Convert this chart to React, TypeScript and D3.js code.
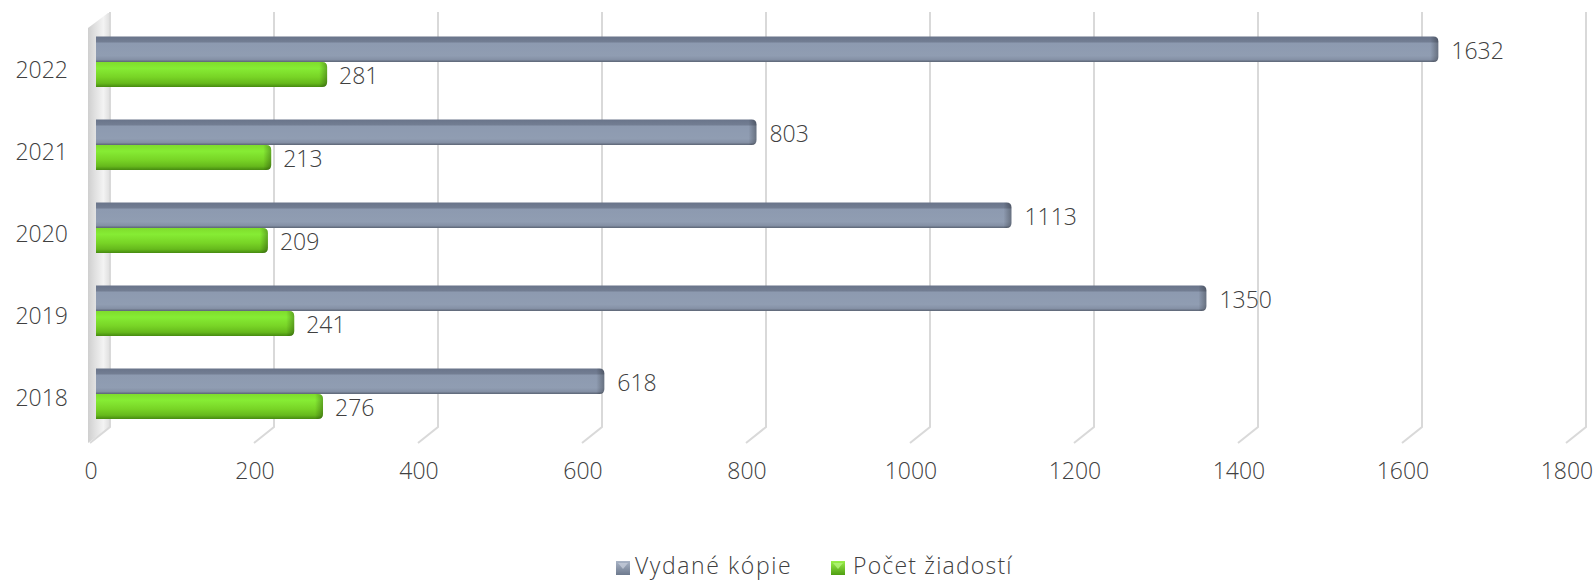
import React from "react";
import * as d3 from "d3";

const years = ["2022", "2021", "2020", "2019", "2018"];
const vydaneKopie = [1632, 803, 1113, 1350, 618];
const pocetZiadosti = [281, 213, 209, 241, 276];
const xTicks = [0, 200, 400, 600, 800, 1000, 1200, 1400, 1600, 1800];
const seriesNames = ["Vydané kópie", "Počet žiadostí"];

const W = 1596;
const H = 583;
const FONT = "'Open Sans', Lato, sans-serif";
const TEXT = "#404040";
const FW = 300;
const FS = 23;

function barPath(x0: number, y0: number, x1: number, y1: number, r: number) {
  const p = d3.path();
  p.moveTo(x0, y0);
  p.lineTo(x1 - r, y0);
  p.quadraticCurveTo(x1, y0, x1, y0 + r);
  p.lineTo(x1, y1 - r);
  p.quadraticCurveTo(x1, y1, x1 - r, y1);
  p.lineTo(x0, y1);
  p.closePath();
  return p.toString();
}

export default function App() {
  const xBack = d3.scaleLinear().domain([0, 1800]).range([110, 1586]);
  const xBar = d3.scaleLinear().domain([0, 1800]).range([96, 96 + 9 * 164.5]);
  const yC = d3.scalePoint<string>().domain(years).range([62, 394]);
  const yLab = d3.scalePoint<string>().domain(years).range([72, 400]);
  const backTop = 12;
  const backBottom = 427;
  const dx = -20;
  const dy = 16;
  const grayH = 25.5;
  const greenH = 25;

  return (
    <svg width={W} height={H} style={{ position: "absolute", left: 0, top: 0, background: "#fff" }} fontFamily={FONT} fontWeight={FW}>
      <defs>
        <linearGradient id="wall" x1="0" y1="0" x2="1" y2="0">
          <stop offset="0" stopColor="#cfcfcf" />
          <stop offset="0.35" stopColor="#e2e2e2" />
          <stop offset="0.7" stopColor="#f3f3f3" />
          <stop offset="1" stopColor="#dedede" />
        </linearGradient>
        <linearGradient id="gGray" x1="0" y1="0" x2="0" y2="1">
          <stop offset="0" stopColor="#69748a" />
          <stop offset="0.2" stopColor="#727d92" />
          <stop offset="0.27" stopColor="#8d9ab0" />
          <stop offset="0.75" stopColor="#909db2" />
          <stop offset="0.9" stopColor="#8591a6" />
          <stop offset="1" stopColor="#5b6474" />
        </linearGradient>
        <linearGradient id="gGreen" x1="0" y1="0" x2="0" y2="1">
          <stop offset="0" stopColor="#7fdc2c" />
          <stop offset="0.25" stopColor="#86ec34" />
          <stop offset="0.6" stopColor="#78d426" />
          <stop offset="0.85" stopColor="#66b91c" />
          <stop offset="1" stopColor="#468a10" />
        </linearGradient>
        <linearGradient id="cap" x1="0" y1="0" x2="1" y2="0">
          <stop offset="0" stopColor="#000" stopOpacity="0" />
          <stop offset="1" stopColor="#000" stopOpacity="0.28" />
        </linearGradient>
        <linearGradient id="lgGray" x1="0" y1="0" x2="0" y2="1">
          <stop offset="0" stopColor="#a9b4c6" />
          <stop offset="1" stopColor="#6e7a8e" />
        </linearGradient>
        <linearGradient id="lgGreen" x1="0" y1="0" x2="0" y2="1">
          <stop offset="0" stopColor="#9af04a" />
          <stop offset="1" stopColor="#4f9e12" />
        </linearGradient>
      </defs>

      {/* left wall */}
      <polygon
        points={`88,28 108,13 110,13 110,${backBottom} 88,${backBottom + dy}`}
        fill="url(#wall)"
      />

      {/* gridlines */}
      {xTicks.map((t) => {
        const x = xBack(t);
        return (
          <path
            key={t}
            d={`M${x},${backTop} V${backBottom} L${x + dx},${backBottom + dy}`}
            fill="none"
            stroke="#d9d9d9"
            strokeWidth={2}
          />
        );
      })}

      {/* bars */}
      {years.map((y, i) => {
        const c = yC(y)!;
        const x0 = xBar(0);
        const xg = xBar(vydaneKopie[i]);
        const xz = xBar(pocetZiadosti[i]);
        return (
          <g key={y}>
            <path d={barPath(x0, c - grayH, xg, c, 5)} fill="url(#gGray)" />
            <path d={barPath(xg - 8, c - grayH, xg, c, 5)} fill="url(#cap)" />
            <path d={barPath(x0, c, xz, c + greenH, 5)} fill="url(#gGreen)" />
            <path d={barPath(xz - 8, c, xz, c + greenH, 5)} fill="url(#cap)" />
            <text x={xg + 13} y={c - grayH / 2 + 4} dominantBaseline="middle" fontSize={FS} fill={TEXT}>
              {vydaneKopie[i]}
            </text>
            <text x={xz + 12} y={c + greenH / 2 + 3} dominantBaseline="middle" fontSize={FS} fill={TEXT}>
              {pocetZiadosti[i]}
            </text>
          </g>
        );
      })}

      {/* category labels */}
      {years.map((y) => (
        <text key={y} x={68} y={yLab(y)!} textAnchor="end" dominantBaseline="middle" fontSize={FS} fill={TEXT}>
          {y}
        </text>
      ))}

      {/* x tick labels */}
      {xTicks.map((t) => (
        <text key={t} x={xBack(t) - 19} y={473} textAnchor="middle" dominantBaseline="middle" fontSize={FS} fill={TEXT}>
          {t}
        </text>
      ))}

      {/* legend */}
      <g>
        <rect x={616} y={561} width={14} height={14} fill="url(#lgGray)" />
        <polygon points="618,563 628,563 623,569" fill="#c3cbd8" opacity={0.8} />
        <text x={635} y={568} dominantBaseline="middle" fontSize={FS} fill={TEXT} letterSpacing={1.6}>
          {seriesNames[0]}
        </text>
        <rect x={831} y={561} width={14} height={14} fill="url(#lgGreen)" />
        <polygon points="833,563 843,563 838,569" fill="#b4f57a" opacity={0.8} />
        <text x={853} y={568} dominantBaseline="middle" fontSize={FS} fill={TEXT} letterSpacing={1.2}>
          {seriesNames[1]}
        </text>
      </g>
    </svg>
  );
}
